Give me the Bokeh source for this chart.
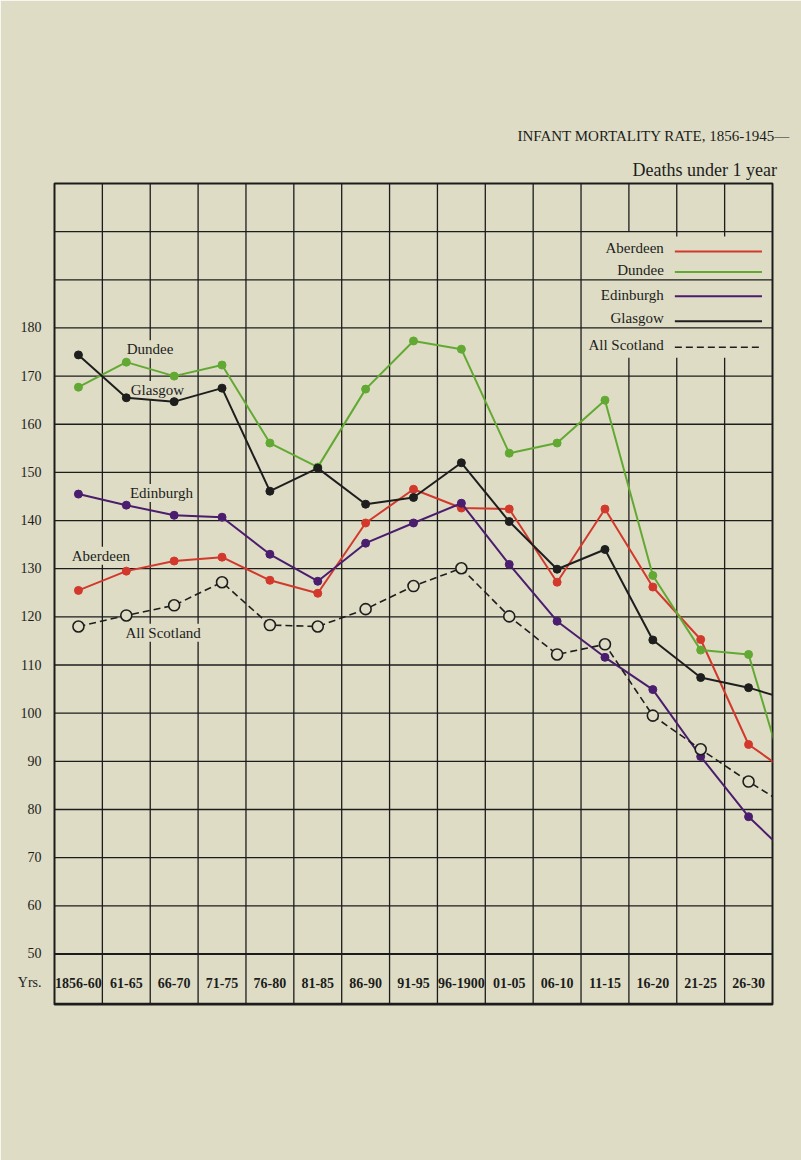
from bokeh.plotting import figure
from bokeh.models import Range1d, FixedTicker, ColumnDataSource, Title
from bokeh.core.properties import value
from bokeh.embed import file_html
from bokeh.resources import INLINE

# ---- data; last value = start of the next period, off the page
periods = ["1856-60", "61-65", "66-70", "71-75", "76-80", "81-85", "86-90", "91-95",
           "96-1900", "01-05", "06-10", "11-15", "16-20", "21-25", "26-30", "31-35"]
aberdeen = [125.5, 129.5, 131.6, 132.4, 127.6, 124.9, 139.5, 146.5, 142.6, 142.4,
            127.2, 142.4, 126.2, 115.3, 93.5, 86.5]
dundee = [167.7, 172.9, 170.0, 172.3, 156.1, 151.1, 167.3, 177.3, 175.6, 154.0,
          156.1, 165.0, 128.6, 113.1, 112.2, 78.6]
edinburgh = [145.5, 143.2, 141.1, 140.7, 133.0, 127.4, 135.3, 139.5, 143.6, 130.9,
             119.1, 111.6, 104.9, 91.0, 78.5, 69.0]
glasgow = [174.4, 165.5, 164.7, 167.5, 146.1, 150.9, 143.4, 144.8, 152.0, 139.8,
           129.9, 134.0, 115.2, 107.4, 105.3, 102.3]
all_scotland = [118.0, 120.3, 122.4, 127.2, 118.3, 118.0, 121.6, 126.4, 130.1, 120.1,
                112.2, 114.3, 99.5, 92.5, 85.8, 79.6]
y_ticks = [50, 60, 70, 80, 90, 100, 110, 120, 130, 140, 150, 160, 170, 180]

PAPER = "#dedcc5"
INK = "#1c1c1c"
RED = "#d2392c"
GREEN = "#62a933"
PURPLE = "#4a1d6e"
BLACK = "#1e1e1e"

SERIF = "Liberation Serif"

n_vis = 15
Y0 = 39.5
xs = [i + 0.5 for i in range(len(periods))]

p = figure(width=801, height=1160, x_range=Range1d(0, n_vis), y_range=Range1d(Y0, 210),
           output_backend="svg", toolbar_location=None,
           min_border_left=54, min_border_right=29, min_border_top=183, min_border_bottom=156,
           background_fill_color=PAPER, border_fill_color=PAPER,
           outline_line_color=INK, outline_line_width=2)
p.xaxis.visible = False
p.grid.visible = False

ax = p.yaxis[0]
ax.ticker = FixedTicker(ticks=[44] + y_ticks)
ax.major_label_overrides = {44: "Yrs."}
ax.axis_line_color = None
ax.major_tick_line_color = None
ax.minor_tick_line_color = None
ax.major_tick_out = 0
ax.major_tick_in = 0
ax.major_label_standoff = 13
ax.major_label_text_font = SERIF
ax.major_label_text_font_size = "14px"
ax.major_label_text_color = INK

# ---- headings
p.add_layout(Title(text="Deaths under 1 year", align="right", offset=-4.5, standoff=8,
                   text_font=SERIF, text_font_size="18px", text_font_style="normal",
                   text_color=INK), "above")
p.add_layout(Title(text="INFANT MORTALITY RATE, 1856-1945\u2014", align="right", offset=-17.5,
                   standoff=19, text_font=SERIF, text_font_size="15px",
                   text_font_style="normal", text_color=INK), "above")

# ---- ruled grid
hy = list(range(60, 210, 10))
p.segment(x0=[0] * len(hy), x1=[n_vis] * len(hy), y0=hy, y1=hy, line_color=INK, line_width=1.3)
p.segment(x0=[0], x1=[n_vis], y0=[50], y1=[50], line_color=INK, line_width=2)
p.segment(x0=[0], x1=[n_vis], y0=[Y0], y1=[Y0], line_color=INK, line_width=3.5)
vx0, vy0, vy1 = [], [], []
for b in range(1, n_vis):
    if b in (12, 13, 14):
        vx0 += [b, b]
        vy0 += [Y0, 199 if b > 12 else 200]
        vy1 += [173.8, 210]
    else:
        vx0.append(b)
        vy0.append(Y0)
        vy1.append(210)
p.segment(x0=vx0, x1=vx0, y0=vy0, y1=vy1, line_color=INK, line_width=1.3)

# ---- period labels in the bottom table
p.text(x=xs[:n_vis], y=[44] * n_vis, text=periods[:n_vis], text_align="center",
       text_baseline="middle", text_font=value(SERIF), text_font_size="14px",
       text_font_style="bold", text_color=INK)

# ---- series labels on the chart
lab = ColumnDataSource(dict(
    x=[1.995, 2.15, 2.235, 0.97, 2.27],
    y=[175.6, 167.1, 145.7, 132.7, 116.7],
    t=["Dundee", "Glasgow", "Edinburgh", "Aberdeen", "All Scotland"]))
p.text(x="x", y="y", text="t", source=lab, text_align="center", text_baseline="middle",
       text_font=value(SERIF), text_font_size="15px", text_color=INK,
       background_fill_color=PAPER, padding=1)

# ---- series
series = [("Aberdeen", aberdeen, RED), ("Dundee", dundee, GREEN),
          ("Edinburgh", edinburgh, PURPLE), ("Glasgow", glasgow, BLACK)]
for name, vals, col in series:
    p.line(xs, vals, line_color=col, line_width=2)
    p.scatter(xs, vals, size=8, fill_color=col, line_color=col)
p.line(xs, all_scotland, line_color=BLACK, line_width=1.6, line_dash="7 4")
p.scatter(xs, all_scotland, size=11, fill_color=PAPER, line_color=BLACK, line_width=1.6)

# ---- legend box (upper right)
leg_names = ["Aberdeen", "Dundee", "Edinburgh", "Glasgow", "All Scotland"]
leg_cols = [RED, GREEN, PURPLE, BLACK, BLACK]
leg_ty = [196.7, 192.1, 186.9, 182.1, 176.5]
leg_ly = [195.9, 191.6, 186.6, 181.4, 176.0]
p.text(x=[12.73] * 5, y=leg_ty, text=leg_names, text_align="right", text_baseline="middle",
       text_font=value(SERIF), text_font_size="15px", text_color=INK)
p.segment(x0=[12.96] * 4, x1=[14.78] * 4, y0=leg_ly[:4], y1=leg_ly[:4],
          line_color=leg_cols[:4], line_width=2)
p.segment(x0=[12.96], x1=[14.78], y0=leg_ly[4:], y1=leg_ly[4:],
          line_color=BLACK, line_width=1.6, line_dash="7 4")

open("out.html", "w").write(file_html(p, INLINE))
